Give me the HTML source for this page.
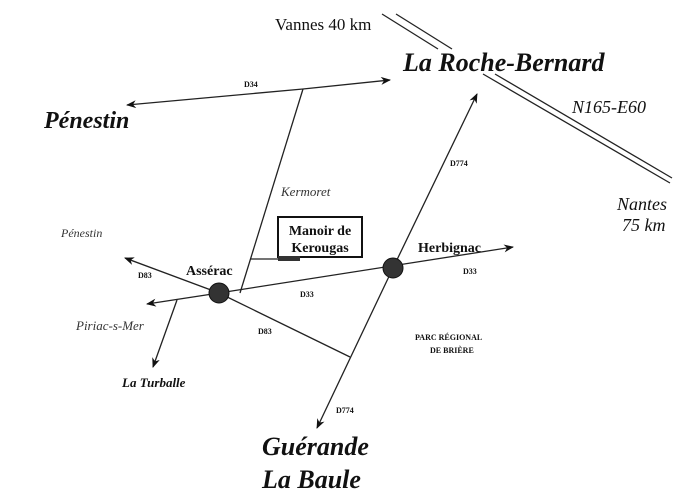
<!DOCTYPE html>
<html><head><meta charset="utf-8"><style>
body{margin:0;background:#fff}
svg{display:block;font-family:"Liberation Serif",serif}
</style></head><body>
<svg width="683" height="494" viewBox="0 0 683 494">
<defs><marker id="a" markerWidth="10" markerHeight="8" refX="9" refY="4" orient="auto" markerUnits="userSpaceOnUse"><path d="M0,0 L10,4 L0,8 L3,4z" fill="#111"/></marker></defs>
<g stroke="#222" stroke-width="1.3" fill="none">
<line x1="303" y1="89" x2="127" y2="105" marker-end="url(#a)"/>
<line x1="303" y1="89" x2="390" y2="80" marker-end="url(#a)"/>
<line x1="303" y1="89" x2="240" y2="293"/>
<line x1="250" y1="259" x2="280" y2="259"/>
<line x1="219" y1="293" x2="147" y2="304" marker-end="url(#a)"/>
<line x1="219" y1="293" x2="513" y2="247" marker-end="url(#a)"/>
<line x1="219" y1="293" x2="125" y2="258" marker-end="url(#a)"/>
<line x1="219" y1="293" x2="350" y2="357"/>
<line x1="393" y1="268" x2="477" y2="94" marker-end="url(#a)"/>
<line x1="393" y1="268" x2="317" y2="428" marker-end="url(#a)"/>
<line x1="177" y1="300" x2="153" y2="367" marker-end="url(#a)"/>
<line x1="382" y1="14" x2="438" y2="49"/><line x1="396" y1="14" x2="452" y2="49"/>
<line x1="483" y1="74" x2="670" y2="183"/><line x1="495" y1="74" x2="672" y2="178"/>
</g>
<circle cx="219" cy="293" r="10" fill="#333" stroke="#111"/>
<circle cx="393" cy="268" r="10" fill="#333" stroke="#111"/>
<rect x="278" y="217" width="84" height="40" fill="#fff" stroke="#111" stroke-width="2"/>
<rect x="278" y="256" width="22" height="5" fill="#333"/>
<g fill="#111">
<text x="275" y="30" font-size="17">Vannes 40 km</text>
<text x="403" y="71" font-size="26" font-weight="bold" font-style="italic">La Roche-Bernard</text>
<text x="44" y="128" font-size="24" font-weight="bold" font-style="italic">Pénestin</text>
<text x="244" y="87" font-size="8" font-weight="bold">D34</text>
<text x="572" y="113" font-size="18" font-style="italic">N165-E60</text>
<text x="617" y="210" font-size="18" font-style="italic">Nantes</text>
<text x="622" y="231" font-size="18" font-style="italic">75 km</text>
<text x="450" y="166" font-size="8" font-weight="bold">D774</text>
<text x="281" y="196" font-size="13" font-style="italic" fill="#333">Kermoret</text>
<text x="320" y="235" font-size="14" font-weight="bold" text-anchor="middle">Manoir de</text>
<text x="320" y="252" font-size="14" font-weight="bold" text-anchor="middle">Kerougas</text>
<text x="61" y="237" font-size="12" font-style="italic" fill="#333">Pénestin</text>
<text x="138" y="278" font-size="8" font-weight="bold">D83</text>
<text x="186" y="275" font-size="14" font-weight="bold">Assérac</text>
<text x="418" y="252" font-size="14" font-weight="bold">Herbignac</text>
<text x="463" y="274" font-size="8" font-weight="bold">D33</text>
<text x="300" y="297" font-size="8" font-weight="bold">D33</text>
<text x="76" y="330" font-size="13" font-style="italic" fill="#333">Piriac-s-Mer</text>
<text x="258" y="334" font-size="8" font-weight="bold">D83</text>
<text x="415" y="340" font-size="8" font-weight="bold">PARC RÉGIONAL</text>
<text x="430" y="353" font-size="8" font-weight="bold">DE BRIÈRE</text>
<text x="122" y="387" font-size="13" font-weight="bold" font-style="italic">La Turballe</text>
<text x="336" y="413" font-size="8" font-weight="bold">D774</text>
<text x="262" y="455" font-size="26" font-weight="bold" font-style="italic">Guérande</text>
<text x="262" y="488" font-size="26" font-weight="bold" font-style="italic">La Baule</text>
</g>
</svg>
</body></html>
